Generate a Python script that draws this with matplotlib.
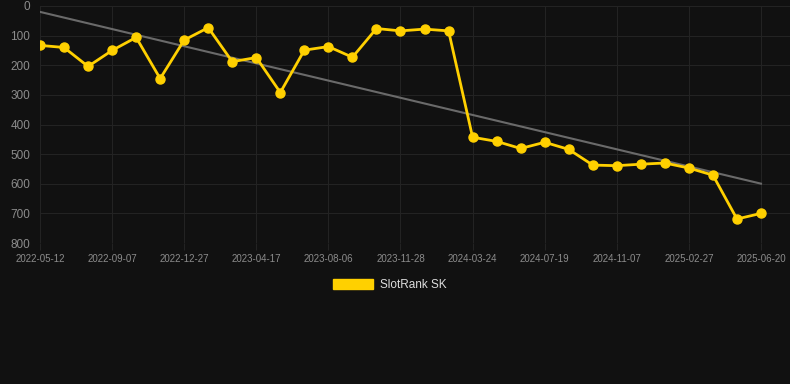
import matplotlib
matplotlib.use("Agg")
import matplotlib.pyplot as plt
import numpy as np
from matplotlib.patches import Patch

# rank per period (lower is better)
ranks = [133, 140, 204, 150, 106, 245, 115, 73, 188, 174, 292, 149, 137,
         173, 76, 84, 78, 84, 443, 457, 481, 460, 484, 537, 539, 534, 530,
         547, 571, 719, 700]
tick_labels = ["2022-05-12", "2022-09-07", "2022-12-27", "2023-04-17",
               "2023-08-06", "2023-11-28", "2024-03-24", "2024-07-19",
               "2024-11-07", "2025-02-27", "2025-06-20"]
series_name = "SlotRank SK"

BG = "#111111"
GRID = "#232323"
TXT = "#8c8c8c"
GOLD = "#ffd000"

plt.rcParams["font.family"] = ["Liberation Sans", "DejaVu Sans"]


def main():
    x = np.arange(len(ranks))
    fig = plt.figure(figsize=(7.9, 3.84), dpi=100, facecolor=BG)
    ax = fig.add_axes([40 / 790, 1 - 243 / 384, 750 / 790, 237 / 384])
    ax.set_facecolor(BG)

    # trend line
    k, b = np.polyfit(x, ranks, 1)
    ax.plot(x, k * x + b, color="#6a6a6a", lw=1.5, zorder=2)

    ax.plot(x, ranks, color=GOLD, lw=2, marker="o", ms=6.5, zorder=3)

    ax.set_xlim(0, 30 + 29 / 24.03)
    ax.set_ylim(800, 0)
    ax.set_yticks(range(0, 801, 100))
    ax.set_xticks(x[::3])
    ax.set_xticklabels(tick_labels)
    ax.grid(True, color=GRID, lw=0.8)
    ax.set_axisbelow(True)
    for s in ax.spines.values():
        s.set_visible(False)
    ax.tick_params(axis="x", colors=GRID, labelcolor=TXT, labelsize=7,
                   length=5, width=0.8, pad=3)
    ax.tick_params(axis="y", colors=GRID, labelcolor=TXT, labelsize=8.5,
                   length=0, pad=7)

    handle = Patch(facecolor=GOLD, edgecolor=GOLD)
    fig.legend([handle], [series_name], loc="center",
               bbox_to_anchor=(390 / 790, 1 - 285 / 384), frameon=False,
               labelcolor="#dddddd", fontsize=8.5, handlelength=3.4,
               handleheight=1.0, handletextpad=0.6)

    fig.savefig("out.png", facecolor=BG)


if __name__ == "__main__":
    main()
